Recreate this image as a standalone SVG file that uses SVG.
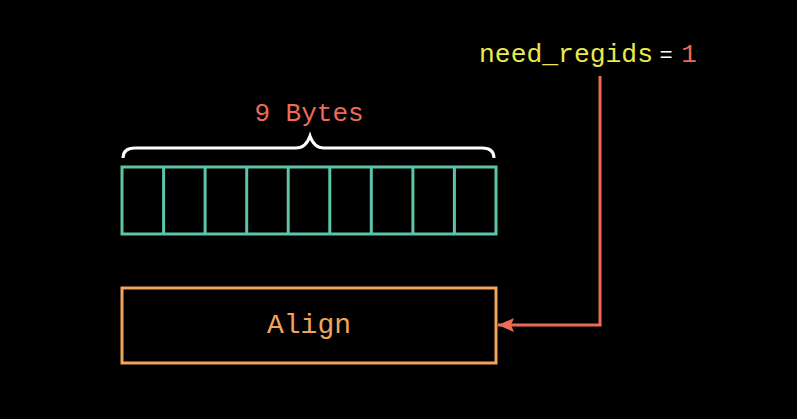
<svg xmlns="http://www.w3.org/2000/svg" width="797" height="419" viewBox="0 0 797 419">
<defs>
<style>
.mono{font-family:"Liberation Mono","DejaVu Sans Mono",monospace}
.cell{fill:none;stroke:#5cc4a8;stroke-width:3}
</style>
<marker id="ah" markerWidth="16" markerHeight="14" refX="16" refY="7" orient="auto" markerUnits="userSpaceOnUse">
<path d="M0,0 L16,7 L0,14 L3,7 Z" fill="#ef6a54"/>
</marker>
</defs>
<rect width="797" height="419" fill="#000"/>
<g id="bytes">
<rect class="cell" x="122" y="167" width="374" height="67"/>
<path class="cell" d="M163.6 167V234M205.1 167V234M246.7 167V234M288.2 167V234M329.8 167V234M371.3 167V234M412.9 167V234M454.4 167V234"/>
</g>
<g id="brace">
<path d="M123 158 Q123 148 135 148 L296 148 Q306 148 310 136 Q314 148 324 148 L482 148 Q494 148 494 158" fill="none" stroke="#fff" stroke-width="3"/>
<text class="mono" x="309" y="121" font-size="26" fill="#ef6a54" text-anchor="middle">9 Bytes</text>
</g>
<g id="align">
<rect x="122" y="288" width="374" height="75" fill="none" stroke="#f0a45c" stroke-width="3"/>
<text class="mono" x="309" y="333" font-size="28" fill="#f0a45c" text-anchor="middle">Align</text>
</g>
<g id="flag">
<text class="mono" x="479" y="62" font-size="26" fill="#eaea4c" textLength="174" lengthAdjust="spacingAndGlyphs">need_regids</text>
<text class="mono" x="666" y="62" font-size="22" fill="#fff" text-anchor="middle">=</text>
<text class="mono" x="689" y="62" font-size="26" fill="#ef6a54" text-anchor="middle">1</text>
</g>
<g id="connectors">
<path d="M600 76 V325 H498" fill="none" stroke="#ef6a54" stroke-width="3" marker-end="url(#ah)"/>
</g>
</svg>
